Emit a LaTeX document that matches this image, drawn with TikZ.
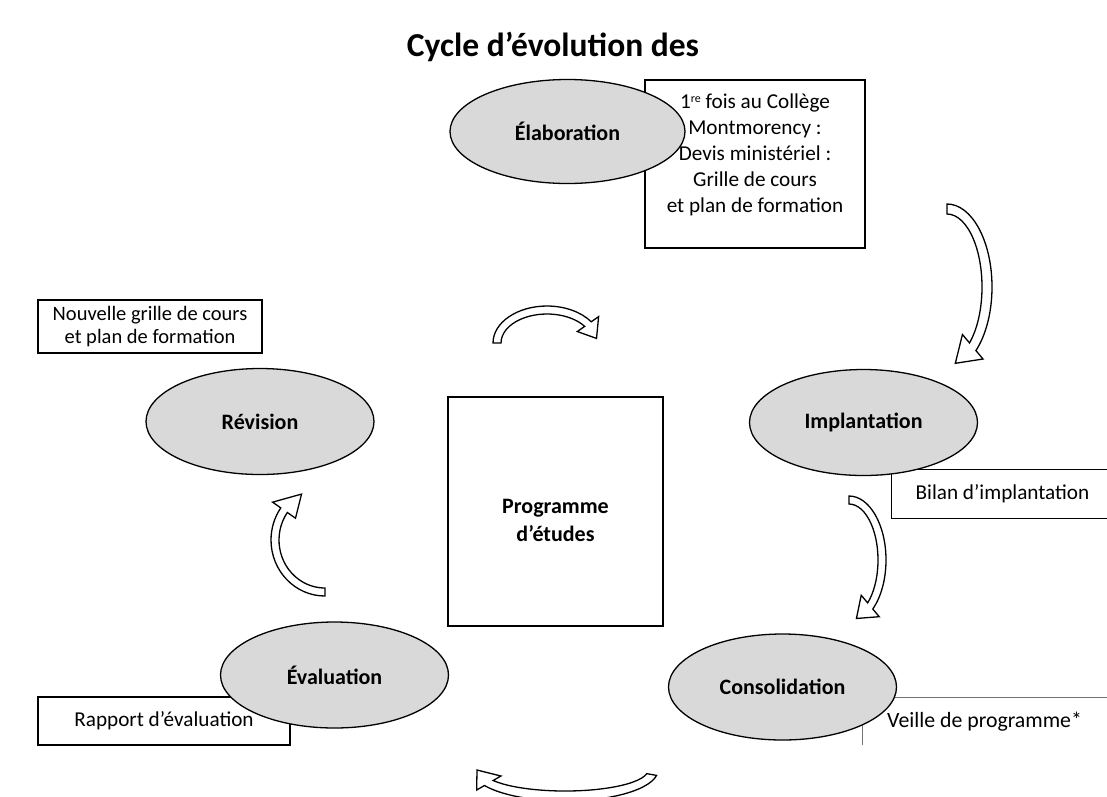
\documentclass[tikz,border=0pt]{standalone}
\usepackage{fontspec}
\setmainfont{Carlito}
\usetikzlibrary{shapes.geometric}
\def\bentarrow(#1,#2)(#3,#4)(#5:#6:#7)(#8,#9){\draw[blockarrow] ({#1+(#3+#8)*cos(#5)},{#2+(#4+#8)*sin(#5)}) arc[start angle=#5, end angle=#6, x radius={#3+#8}, y radius={#4+#8}] -- ({#1+(#3+#9)*cos(#6)},{#2+(#4+#9)*sin(#6)}) -- ({#1+#3*cos(#7)},{#2+#4*sin(#7)}) -- ({#1+(#3-#9)*cos(#6)},{#2+(#4-#9)*sin(#6)}) -- ({#1+(#3-#8)*cos(#6)},{#2+(#4-#8)*sin(#6)}) arc[start angle=#6, end angle=#5, x radius={#3-#8}, y radius={#4-#8}] -- cycle;}
\tikzset{
	phase/.style={ellipse, draw=black, line width=1.3pt, fill=black!15, inner sep=0pt, minimum width=228pt, minimum height=106pt, font=\fontsize{22}{26}\selectfont\bfseries},
	notebox/.style={draw=black, line width=1.3pt, fill=white, align=center, font=\fontsize{21.2}{25}\selectfont},
	blockarrow/.style={draw=black, line width=1.3pt, fill=white, line join=miter}
}

\begin{document}
\begin{tikzpicture}[x=1pt, y=1pt, yscale=-1]
			%%%%% START %%%%%
			\useasboundingbox (0,0) rectangle (1107,796);
			
			\node[font=\fontsize{33.5}{38}\selectfont\bfseries] (title) at (553,47) {Cycle d’évolution des};
			
			%%%%% BOXES %%%%%
			\node[notebox, minimum width=220pt, minimum height=168pt] (devisbox) at (755,164) {};
			\node[align=center, font=\fontsize{21.2}{26}\selectfont] (devis) at (755,155) {1\raisebox{6pt}{\fontsize{12}{12}\selectfont re} fois au Collège\\Montmorency :\\Devis ministériel :\\Grille de cours\\et plan de formation};
			
			\node[notebox, minimum width=224pt, minimum height=53pt, font=\fontsize{20.5}{23.5}\selectfont] (nouvelle) at (150,326.5) {Nouvelle grille de cours\\et plan de formation};
			
			\node[notebox, minimum width=215pt, minimum height=229pt] (programme) at (555.5,511.5) {};
			\node[align=center, font=\fontsize{22}{28}\selectfont\bfseries] (programmetext) at (555.5,520) {Programme\\d’études};
			
			\node[notebox, anchor=north west, inner xsep=24pt, text width=210pt, align=flush left, minimum height=49pt] (bilan) at (891,469) {Bilan d’implantation};
			\node[notebox, minimum width=252pt, minimum height=48pt] (rapport) at (164,721) {Rapport d’évaluation};
			
			\node[anchor=north west, inner xsep=25pt, text width=230pt, align=flush left, minimum height=48pt, font=\fontsize{21.8}{25}\selectfont] (veille) at (862,697) {Veille de programme*};
			\draw[black!55, line width=1pt] (veille.south west) -- (veille.north west) -- (veille.north east);
			
			%%%%% PHASES %%%%%
			\node[phase, minimum width=235pt, minimum height=104pt] (elaboration) at (567.5,131.5) {Élaboration};
			\node[phase] (implantation) at (863.5,422.5) {Implantation};
			\node[phase] (revision) at (260,421.5) {Révision};
			\node[phase] (evaluation) at (334.5,675) {Évaluation};
			\node[phase] (consolidation) at (782.5,687) {Consolidation};
			
			%%%%% ARROWS %%%%%
			\bentarrow(547,343)(50,33)(180:325:352)(4,13)
			\bentarrow(947,287)(40,78)(-90:50:78)(5,16)
			\bentarrow(849,560)(33,60)(-90:50:77)(4,14)
			\bentarrow(325,540)(50,52)(90:215:242)(4,14)
			\bentarrow(565,770)(88,26)(10:150:180)(5,14)
			
			%%%%% END %%%%%
\end{tikzpicture}
\end{document}
